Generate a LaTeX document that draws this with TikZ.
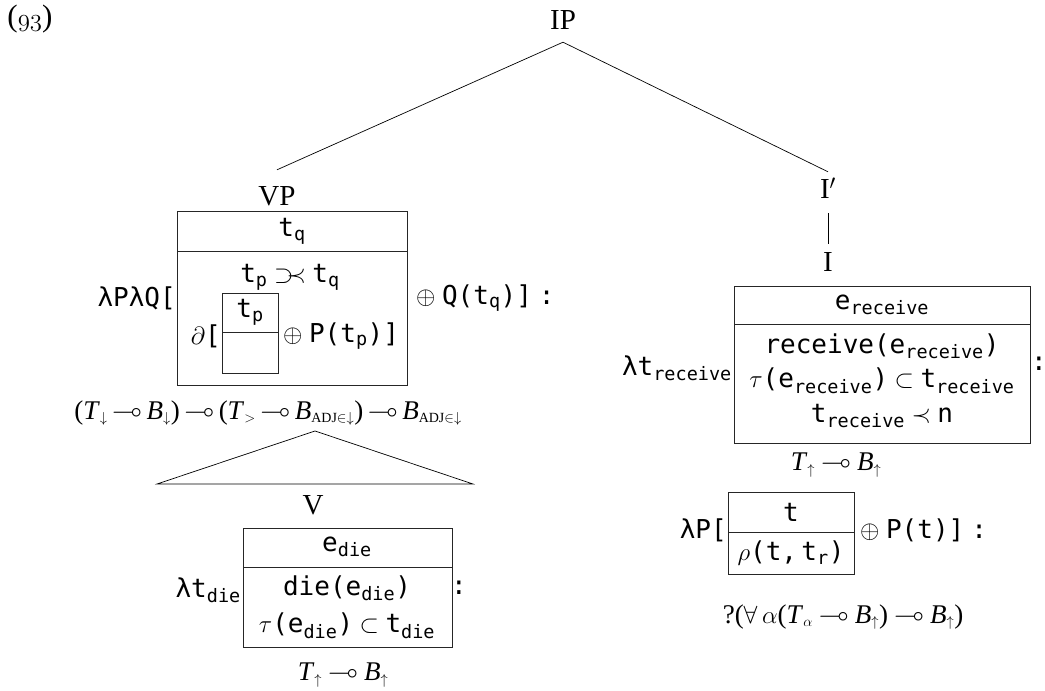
\documentclass[tikz,border=0pt]{standalone}
\usepackage{amsmath,amssymb}
\usepackage{fontspec}
\setmainfont{Liberation Serif}
\setmonofont{DejaVu Sans Mono}
\DeclareMathSizes{27}{27}{14}{11}
\DeclareMathSizes{26}{26}{18.5}{13}
\newcommand\mt[1]{\texttt{#1}}
\newcommand\msub[2]{\texttt{#1}$_{\texttt{#2}}$}
\newcommand\It[1]{\textit{#1}}
\newcommand\lam{\texttt{λ}}
\newcommand\lolli{\:$\multimap$\:}
\newcommand\lollin{\,$\multimap$\,}
\newcommand\colsp{\hspace{7pt}\mt{:}}
\tikzset{
  lbl/.style={inner sep=0pt, font=\fontsize{26}{30}\selectfont},
  frm/.style={inner sep=0pt, font=\fontsize{27}{31}\selectfont},
  cat/.style={inner sep=0pt, font=\fontsize{29}{33}\selectfont},
  exn/.style={inner sep=0pt, font=\fontsize{31}{35}\selectfont},
  boxl/.style={draw=black!85, line width=0.8pt},
  edge/.style={draw=black, line width=0.7pt}
}
\begin{document}
\begin{tikzpicture}[x=1pt,y=-1pt]
\useasboundingbox (0,0) rectangle (1045,691);
% example number
\node[exn] (ex) at (30,19) {($\mathnormal{93}$)};
% tree categories
\node[cat, minimum height=44pt] (IP) at (563,20) {IP};
\node[cat, minimum height=52pt] (VP) at (277,196) {VP};
\node[cat, minimum height=32pt] (Ip) at (828,188) {I$'$};
\node[cat, minimum height=36pt] (I) at (828,262) {I};
\draw[edge] (IP.south) -- (VP.north);
\draw[edge] (IP.south) -- (Ip.north);
\draw[edge, shorten <=9pt] (Ip.south) -- (I.north);

% ---------- VP box ----------
\draw[boxl] (177,211) rectangle (407,385);
\draw[boxl] (177,251) -- (407,251);
\node[lbl] (tq) at (292,231) {\msub{t}{q}};
\node[lbl] (tptq) at (290,277) {\msub{t}{p} $\supset\mkern-5mu\prec$ \msub{t}{q}};
\node[lbl, anchor=east] (dd) at (221,336) {$\partial$\mt{[}};
\draw[boxl] (222,293) rectangle (278,373);
\draw[boxl] (222,332) -- (278,332);
\node[lbl] (tp) at (250,312) {\msub{t}{p}};
\node[lbl, anchor=west] (pp) at (283,336) {$\oplus$ \mt{P(}\msub{t}{p}\mt{)]}};
\node[lbl, anchor=east] (lpq) at (176,298) {\lam\mt{P}\lam\mt{Q[}};
\node[lbl, anchor=west] (oq) at (416,298) {$\oplus$ \mt{Q(}\msub{t}{q}\mt{)]}\colsp};
\node[frm] (f1) at (268,413) {(\It{T}$_{\downarrow}$\lollin\It{B}$_{\downarrow}$)\lollin(\It{T}$_{>}$\lollin\It{B}$_{\text{ADJ}\in\downarrow}$)\lollin\It{B}$_{\text{ADJ}\in\downarrow}$};

% triangle
\coordinate (tapex) at (315,431);
\coordinate (tbl) at (157,484);
\coordinate (tbr) at (473,484);
\draw[edge] (tapex) -- (tbl) -- (tbr) -- cycle;

% ---------- V ----------
\node[cat] (V) at (313,505) {V};
\draw[boxl] (243,528) rectangle (452,647);
\draw[boxl] (243,567) -- (452,567);
\node[lbl] (edie) at (347,547) {\msub{e}{die}};
\node[lbl] (die) at (347,588) {\mt{die(}\msub{e}{die}\mt{)}};
\node[lbl] (tau1) at (347,626) {$\tau$\mt{(}\msub{e}{die}\mt{)} $\subset$ \msub{t}{die}};
\node[lbl, anchor=east] (ltd) at (241,590) {\lam\msub{t}{die}};
\node[lbl, anchor=west] (c1) at (451,588) {\mt{:}};
\node[frm] (tb1) at (343,675) {\It{T}$_{\uparrow}$\lolli\It{B}$_{\uparrow}$};

% ---------- I box ----------
\draw[boxl] (734,286) rectangle (1030,443);
\draw[boxl] (734,324) -- (1030,324);
\node[lbl] (erec) at (882,305) {\msub{e}{receive}};
\node[lbl] (rec) at (882,346) {\mt{receive(}\msub{e}{receive}\mt{)}};
\node[lbl] (tau2) at (882,381) {$\tau$\mt{(}\msub{e}{receive}\mt{)} $\subset$ \msub{t}{receive}};
\node[lbl] (precn) at (882,416) {\msub{t}{receive} $\prec$ \mt{n}};
\node[lbl, anchor=east] (ltr) at (732,368) {\lam\msub{t}{receive}};
\node[lbl, anchor=west] (c2) at (1031,364) {\mt{:}};
\node[frm] (tb2) at (836,465) {\It{T}$_{\uparrow}$\lolli\It{B}$_{\uparrow}$};

% ---------- P box ----------
\draw[boxl] (728,492) rectangle (854,574);
\draw[boxl] (728,532) -- (854,532);
\node[lbl] (t) at (791,512) {\mt{t}};
\node[lbl] (rho) at (791,553) {$\rho$\mt{(t,}\,\msub{t}{r}\mt{)}};
\node[lbl, anchor=east] (lp) at (727,530) {\lam\mt{P[}};
\node[lbl, anchor=west] (opt) at (860,530) {$\oplus$ \mt{P(t)]}\colsp};
\node[frm] (q) at (843,617) {?($\forall$\,$\alpha$(\It{T}$_{\alpha}$\lolli\It{B}$_{\uparrow}$)\lolli\It{B}$_{\uparrow}$)};
\end{tikzpicture}
\end{document}
